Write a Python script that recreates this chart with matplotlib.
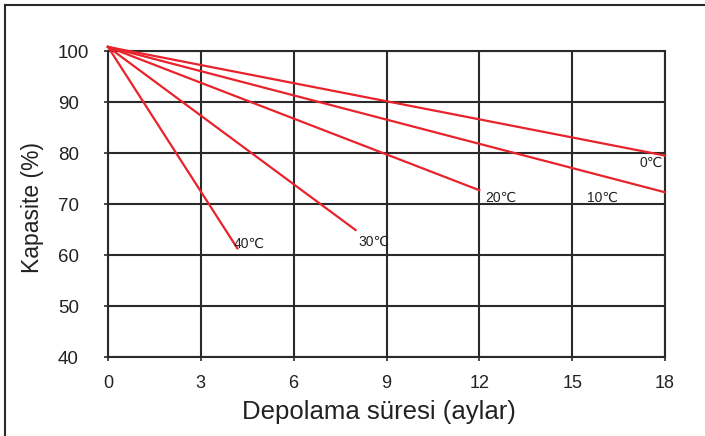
import matplotlib
matplotlib.use("Agg")
import matplotlib.pyplot as plt
from matplotlib.lines import Line2D

plt.rcParams['font.family'] = ['Liberation Sans', 'DejaVu Sans']

series_names = ["0℃", "10℃", "20℃", "30℃", "40℃"]
months_end = [18, 18, 12, 8, 4.18]
start_value = 100.8
end_values = [79.5, 72.3, 72.7, 64.9, 61.3]
label_pos = [(17.19, 78.0), (15.48, 71.3), (12.18, 71.3), (8.08, 62.5), (4.07, 62.2)]
x_ticks = [0, 3, 6, 9, 12, 15, 18]
y_ticks = [40, 50, 60, 70, 80, 90, 100]

W, H = 705, 436
fig = plt.figure(figsize=(W/100, H/100), dpi=100)
ax = fig.add_axes([108/W, 1-357/H, 557/W, 306/H])

red = "#e8232b"
for name, xe, ye, (lx, ly) in zip(series_names, months_end, end_values, label_pos):
    ax.plot([0, xe], [start_value, ye], color=red, lw=1.6, clip_on=False, zorder=3)
    ax.text(lx, ly, name, fontsize=10, ha="left", va="center", color="#222222")

ax.set_xlim(0, 18)
ax.set_ylim(40, 100)
ax.set_xticks(x_ticks)
ax.set_yticks(y_ticks)
ax.grid(True, color="#2a2a2a", lw=1.5)
ax.set_axisbelow(True)
for s in ax.spines.values():
    s.set_color("#2a2a2a")
    s.set_linewidth(1.5)
ax.tick_params(axis="both", colors="#2a2a2a", length=3, width=1.2,
               labelcolor="#222222")
ax.tick_params(axis="x", pad=10, labelsize=13)
# left-aligned y tick labels starting at ~58 px
ylab_size = 13.5
ax.tick_params(axis="y", labelsize=ylab_size, pad=(108 - 58) * 72 / 100 - 3)
for lab in ax.get_yticklabels():
    lab.set_horizontalalignment("left")

ax.set_xlabel("Depolama süresi (aylar)", fontsize=18.5, color="#222222")
ax.xaxis.set_label_coords((378.5 - 108) / 557, (357 - 400) / 306)
ax.set_ylabel("Kapasite (%)", fontsize=16.5, color="#222222")
ax.yaxis.set_label_coords((44 - 108) / 557, 0.49)

# outer border (left and top)
fig.add_artist(Line2D([5/W, 5/W], [0, 1-5/H], transform=fig.transFigure, color="#2a2a2a", lw=1.5))
fig.add_artist(Line2D([5/W, 1], [1-5/H, 1-5/H], transform=fig.transFigure, color="#2a2a2a", lw=1.5))

fig.savefig("out.png", dpi=100)
